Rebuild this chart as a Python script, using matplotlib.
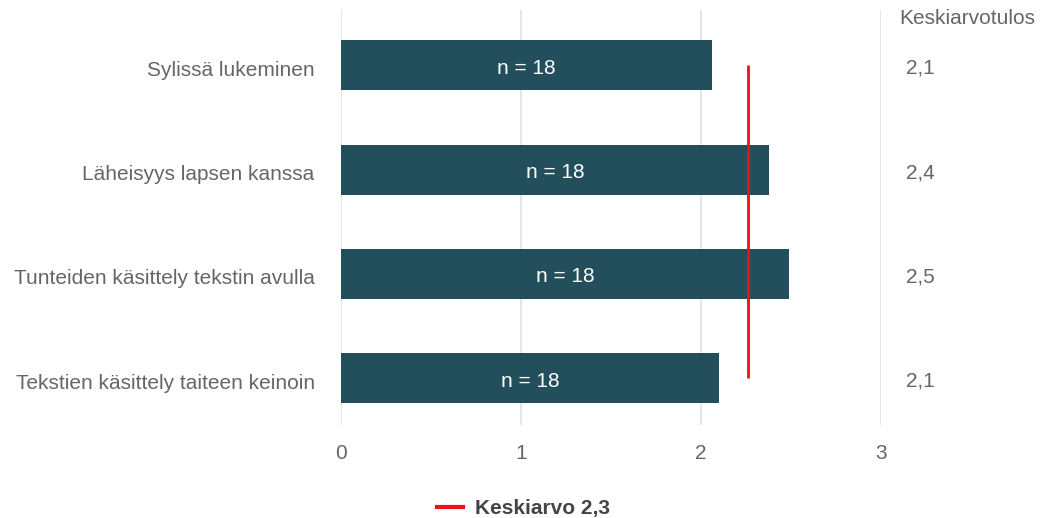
import matplotlib.pyplot as plt
from matplotlib.lines import Line2D

plt.rcParams['font.family'] = ['Liberation Sans', 'DejaVu Sans']

categories = ['Sylissä lukeminen', 'Läheisyys lapsen kanssa',
              'Tunteiden käsittely tekstin avulla', 'Tekstien käsittely taiteen keinoin']
values = [2.06, 2.38, 2.49, 2.10]
n_labels = ['n = 18', 'n = 18', 'n = 18', 'n = 18']
avg_labels = ['2,1', '2,4', '2,5', '2,1']
mean_value = 2.26
mean_label = 'Keskiarvo 2,3'

bar_color = '#234f5c'
text_color = '#666666'
fs = 15

fig = plt.figure(figsize=(10.4, 5.18), dpi=100)
ax = fig.add_axes([0.3279, 0.1795, 0.5192, 0.8012])

ypos = list(range(len(categories)))
ax.barh(ypos, values, height=0.48, color=bar_color, zorder=2)

for y, v, lab in zip(ypos, values, n_labels):
    ax.text(v / 2, y + 0.03, lab, color='white', ha='center', va='center', fontsize=fs, zorder=3)

# mean line across the bars
ax.vlines(mean_value, ypos[0], ypos[-1], color='#ee1111', linewidth=2, zorder=4)

ax.set_xlim(0, 3)
ax.set_ylim(3.45, -0.53)
ax.set_xticks([0, 1, 2, 3])
ax.set_xticklabels(['0', '1', '2', '3'], color=text_color, fontsize=fs)
ax.set_yticks([y + 0.03 for y in ypos])
ax.set_yticklabels(categories, color=text_color, fontsize=fs)
ax.tick_params(length=0)
ax.tick_params(axis='x', pad=14)
ax.tick_params(axis='y', pad=19)
ax.grid(axis='x', color='#e0e0e0', linewidth=1.2, zorder=0)
ax.set_axisbelow(True)
for s in ax.spines.values():
    s.set_visible(False)

# average column on the right
ax.text(3.1, -0.45, 'Keskiarvotulos', color=text_color, fontsize=fs, va='center', ha='left')
for y, lab in zip(ypos, avg_labels):
    ax.text(3.14, y + 0.03, lab, color=text_color, fontsize=fs, va='center', ha='left')

handle = Line2D([], [], color='#ee1111', linewidth=3)
leg = fig.legend([handle], [mean_label], loc='center', bbox_to_anchor=(0.503, 0.018),
                 frameon=False, handlelength=1.25, handletextpad=0.58,
                 prop={'weight': 'bold', 'size': fs})
for t in leg.get_texts():
    t.set_color('#444444')

fig.savefig('out.png', dpi=100)
